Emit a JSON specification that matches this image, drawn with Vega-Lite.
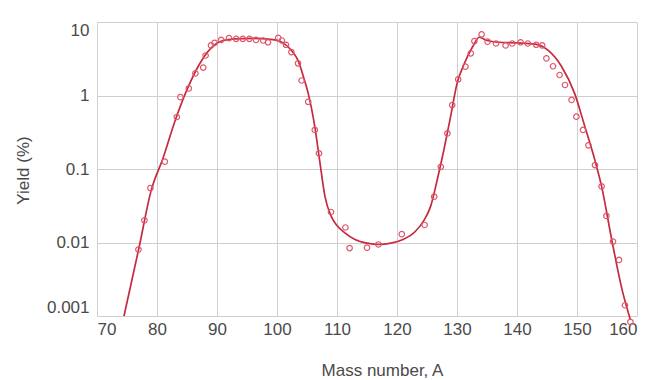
{
  "$schema": "https://vega.github.io/schema/vega-lite/v6.json",
  "width": 540,
  "height": 294,
  "autosize": {"type": "none"},
  "padding": {"left": 97, "top": 22, "right": 13, "bottom": 64},
  "background": "white",
  "config": {
    "view": {"stroke": null},
    "font": "Liberation Sans",
    "axis": {
      "grid": true,
      "gridColor": "#cfcfcf",
      "gridWidth": 1,
      "domain": false,
      "ticks": false,
      "labelFont": "Liberation Sans",
      "labelFontSize": 17,
      "labelColor": "#4a4a4a",
      "titleFont": "Liberation Sans",
      "titleFontSize": 17,
      "titleFontWeight": "normal",
      "titleColor": "#4a4a4a"
    }
  },
  "datasets": {
    "curve": [
      {"A": 74.5, "Y": 0.001},
      {"A": 77, "Y": 0.0085},
      {"A": 79, "Y": 0.05},
      {"A": 81, "Y": 0.14},
      {"A": 83, "Y": 0.45},
      {"A": 85, "Y": 1.2},
      {"A": 87, "Y": 2.6},
      {"A": 89, "Y": 4.4},
      {"A": 91, "Y": 5.6},
      {"A": 93, "Y": 5.9},
      {"A": 96, "Y": 6.0},
      {"A": 99, "Y": 5.8},
      {"A": 101, "Y": 5.2},
      {"A": 102.5, "Y": 4.0},
      {"A": 103.5, "Y": 3.0},
      {"A": 104.5, "Y": 1.7},
      {"A": 105.2, "Y": 1.07},
      {"A": 106.3, "Y": 0.377},
      {"A": 107.1, "Y": 0.132},
      {"A": 108, "Y": 0.042},
      {"A": 109, "Y": 0.023},
      {"A": 110, "Y": 0.017},
      {"A": 111.3, "Y": 0.0135},
      {"A": 113, "Y": 0.011},
      {"A": 115, "Y": 0.0098},
      {"A": 117, "Y": 0.0094},
      {"A": 119, "Y": 0.0098},
      {"A": 121, "Y": 0.011},
      {"A": 123, "Y": 0.014},
      {"A": 124.5, "Y": 0.02},
      {"A": 125.6, "Y": 0.031},
      {"A": 126.7, "Y": 0.071},
      {"A": 127.8, "Y": 0.18},
      {"A": 128.9, "Y": 0.5},
      {"A": 130, "Y": 1.45},
      {"A": 131.2, "Y": 2.7},
      {"A": 132.6, "Y": 4.6},
      {"A": 133.7, "Y": 6.2},
      {"A": 135, "Y": 5.6},
      {"A": 137, "Y": 5.3},
      {"A": 140, "Y": 5.2},
      {"A": 143, "Y": 5.0},
      {"A": 145.2, "Y": 4.1},
      {"A": 147.4, "Y": 2.5},
      {"A": 149.6, "Y": 1.07},
      {"A": 151.3, "Y": 0.38},
      {"A": 153, "Y": 0.13},
      {"A": 154.1, "Y": 0.058},
      {"A": 155.8, "Y": 0.0108},
      {"A": 157.5, "Y": 0.0023},
      {"A": 158.9, "Y": 0.00089}
    ],
    "points": [
      {"A": 76.9, "Y": 0.008},
      {"A": 77.9, "Y": 0.02},
      {"A": 78.9, "Y": 0.055},
      {"A": 81.3, "Y": 0.126},
      {"A": 83.3, "Y": 0.51},
      {"A": 83.9, "Y": 0.95},
      {"A": 85.3, "Y": 1.25},
      {"A": 86.4, "Y": 2.0},
      {"A": 87.7, "Y": 2.4},
      {"A": 88.1, "Y": 3.5},
      {"A": 89.0, "Y": 4.8},
      {"A": 89.6, "Y": 5.2},
      {"A": 90.7, "Y": 5.7},
      {"A": 92.0, "Y": 6.05},
      {"A": 93.2, "Y": 5.9},
      {"A": 94.3, "Y": 5.9},
      {"A": 95.4, "Y": 5.9},
      {"A": 96.5, "Y": 5.7},
      {"A": 97.7, "Y": 5.6},
      {"A": 98.5, "Y": 5.3},
      {"A": 100.2, "Y": 6.1},
      {"A": 100.8, "Y": 5.6},
      {"A": 101.5, "Y": 4.9},
      {"A": 102.4, "Y": 3.9},
      {"A": 103.5, "Y": 2.74},
      {"A": 104.1, "Y": 1.6},
      {"A": 105.2, "Y": 0.82},
      {"A": 106.3, "Y": 0.34},
      {"A": 107.0, "Y": 0.163},
      {"A": 109.0, "Y": 0.026},
      {"A": 111.4, "Y": 0.016},
      {"A": 112.1, "Y": 0.0084},
      {"A": 115.0, "Y": 0.0085},
      {"A": 116.9, "Y": 0.0094},
      {"A": 120.8, "Y": 0.013},
      {"A": 124.6, "Y": 0.0173},
      {"A": 126.2, "Y": 0.042},
      {"A": 127.3, "Y": 0.107},
      {"A": 128.4, "Y": 0.305},
      {"A": 129.2, "Y": 0.74},
      {"A": 130.2, "Y": 1.66},
      {"A": 131.4, "Y": 2.47},
      {"A": 132.3, "Y": 3.75},
      {"A": 132.9, "Y": 5.5},
      {"A": 134.1, "Y": 6.8},
      {"A": 135.1, "Y": 5.4},
      {"A": 136.5, "Y": 5.1},
      {"A": 138.1, "Y": 4.8},
      {"A": 139.2, "Y": 5.1},
      {"A": 140.6, "Y": 5.3},
      {"A": 141.8, "Y": 5.1},
      {"A": 143.2, "Y": 4.9},
      {"A": 144.2, "Y": 4.8},
      {"A": 144.9, "Y": 3.2},
      {"A": 146.0, "Y": 2.5},
      {"A": 147.1, "Y": 1.9},
      {"A": 148.0, "Y": 1.39},
      {"A": 149.1, "Y": 0.87},
      {"A": 149.9, "Y": 0.515},
      {"A": 151.0, "Y": 0.34},
      {"A": 151.9, "Y": 0.21},
      {"A": 153.0, "Y": 0.113},
      {"A": 154.1, "Y": 0.058},
      {"A": 154.9, "Y": 0.023},
      {"A": 156.0, "Y": 0.0103},
      {"A": 157.0, "Y": 0.0058},
      {"A": 158.0, "Y": 0.0014},
      {"A": 158.9, "Y": 0.00083}
    ]
  },
  "encoding": {
    "x": {
      "field": "A",
      "type": "quantitative",
      "scale": {"domain": [70, 160], "nice": false, "zero": false},
      "axis": {
        "values": [70, 80, 90, 100, 110, 120, 130, 140, 150, 160],
        "labelPadding": 5,
        "title": "Mass number, A",
        "titleX": 285,
        "titleY": 54,
        "titleBaseline": "middle",
        "titleAlign": "center"
      }
    },
    "y": {
      "field": "Y",
      "type": "quantitative",
      "scale": {"type": "log", "domain": [0.001, 10], "nice": false},
      "axis": {
        "values": [0.001, 0.01, 0.1, 1, 10],
        "format": "~g",
        "labelPadding": 8,
        "labelFlush": true,
        "title": "Yield (%)",
        "titleX": -74,
        "titleY": 148,
        "titleBaseline": "middle",
        "titleAlign": "center"
      }
    }
  },
  "layer": [
    {
      "data": {"name": "curve"},
      "mark": {"type": "line", "interpolate": "monotone", "color": "#c42a40", "strokeWidth": 1.7}
    },
    {
      "data": {"name": "points"},
      "mark": {"type": "point", "shape": "circle", "filled": false, "color": "#e0566a", "strokeWidth": 1.2, "size": 30, "opacity": 1}
    }
  ]
}
